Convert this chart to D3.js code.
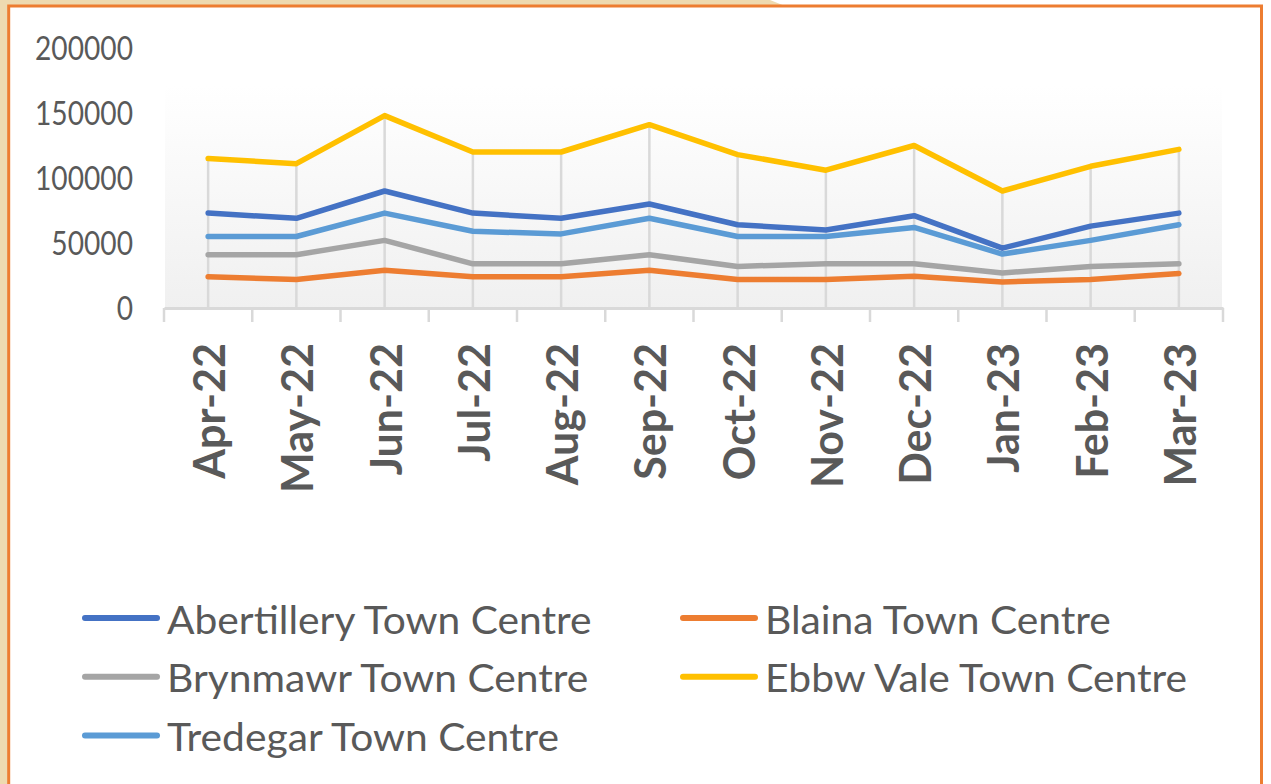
<!DOCTYPE html>
<html><head><meta charset="utf-8">
<script src="https://cdn.jsdelivr.net/npm/d3@7"></script>
<style>
html,body{margin:0;padding:0;background:#fff;}
svg{display:block;}
text{font-family:Lato, "Open Sans", sans-serif;fill:#595959;}
</style></head>
<body>
<svg id="chart" width="1271" height="784"></svg>
<script>
const months = ["Apr-22","May-22","Jun-22","Jul-22","Aug-22","Sep-22","Oct-22","Nov-22","Dec-22","Jan-23","Feb-23","Mar-23"];
const seriesNames = ["Abertillery Town Centre","Blaina Town Centre","Brynmawr Town Centre","Ebbw Vale Town Centre","Tredegar Town Centre"];
const abertillery = [73000, 69000, 90000, 73000, 69000, 80000, 64000, 60000, 71000, 46000, 63000, 73000];
const blaina      = [24000, 22000, 29000, 24000, 24000, 29000, 22000, 22000, 24500, 20000, 22000, 26500];
const brynmawr    = [41000, 41000, 52000, 34000, 34000, 41000, 32000, 34000, 34000, 27000, 32000, 34000];
const ebbwVale    = [115000, 111000, 148000, 120000, 120000, 141000, 118000, 106000, 125000, 90000, 109000, 122000];
const tredegar    = [55000, 55000, 73000, 59000, 57000, 69000, 55000, 55000, 62000, 41500, 52000, 64000];
const yTicks = [0, 50000, 100000, 150000, 200000];
const colors = ["#4472C4","#ED7D31","#A5A5A5","#FFC000","#5B9BD5"];

const seriesValues = [abertillery, blaina, brynmawr, ebbwVale, tredegar];
const series = seriesNames.map((n,i)=>({name:n, values:seriesValues[i], color:colors[i]}));

const svg = d3.select("#chart");
const W = 1271, H = 784;

// background: beige texture edge + white card with orange border
svg.append("rect").attr("x",0).attr("y",0).attr("width",W).attr("height",H).attr("fill","#fff");
svg.append("path").attr("d","M0,0 L770,0 L790,8 L0,8 Z").attr("fill","#EEDAB0");
svg.append("rect").attr("x",0).attr("y",0).attr("width",9).attr("height",H).attr("fill","#EEDAB0");
svg.append("rect").attr("x",8.7).attr("y",6).attr("width",1252.8).attr("height",790)
  .attr("fill","#fff").attr("stroke","#ED7D31").attr("stroke-width",3);

const x = d3.scaleBand().domain(months).range([164,1223]);
const y = d3.scaleLinear().domain([0,200000]).range([308,48]);

// back wall gradient
const defs = svg.append("defs");
const grad = defs.append("linearGradient").attr("id","wall").attr("x1",0).attr("y1",0).attr("x2",0).attr("y2",1);
grad.append("stop").attr("offset","0%").attr("stop-color","#ffffff");
grad.append("stop").attr("offset","100%").attr("stop-color","#F0F0F0");
svg.append("rect").attr("x",x.range()[0]+1).attr("y",85).attr("width",x.range()[1]-x.range()[0]-2)
  .attr("height",y(0)-85).attr("fill","url(#wall)");

// drop lines
const cx = m => x(m)+x.bandwidth()/2;
svg.append("g").selectAll("line").data(months).join("line")
  .attr("x1",cx).attr("x2",cx)
  .attr("y1",(m,i)=>y(d3.max(seriesValues,s=>s[i])))
  .attr("y2",y(0))
  .attr("stroke","#D9D9D9").attr("stroke-width",2.5);

// x axis
const xAxis = svg.append("g").attr("transform",`translate(0,${y(0)})`)
  .call(d3.axisBottom(x).tickSize(0).tickFormat(""));
xAxis.select(".domain").attr("stroke","#D9D9D9").attr("stroke-width",3);
const bounds = months.map(m=>x(m)).concat([x.range()[1]]);
svg.append("g").selectAll("line").data(bounds).join("line")
  .attr("x1",d=>d).attr("x2",d=>d).attr("y1",y(0)).attr("y2",y(0)+14)
  .attr("stroke","#D9D9D9").attr("stroke-width",2.5);
svg.append("g").selectAll("text").data(months).join("text")
  .attr("transform",m=>`translate(${cx(m)+17},343) rotate(-90)`)
  .attr("text-anchor","end")
  .style("font-weight","bold").style("font-size","43px")
  .text(m=>m);

// y axis labels
const yAxis = svg.append("g").attr("transform","translate(133,0)")
  .call(d3.axisLeft(y).tickValues(yTicks).tickSize(0).tickPadding(0).tickFormat(d3.format("d")));
yAxis.select(".domain").remove();
yAxis.selectAll("text").style("font-size","32px").attr("fill","#595959")
  .style("font-family","Lato, sans-serif")
  .attr("dy","0.36em")
  .each(function(){ const l=this.getComputedTextLength(); d3.select(this).attr("textLength",l*0.88).attr("lengthAdjust","spacingAndGlyphs"); });

// lines
const line = d3.line().x((d,i)=>cx(months[i])).y(d=>y(d));
svg.append("g").selectAll("path").data(series).join("path")
  .attr("d",s=>line(s.values)).attr("fill","none")
  .attr("stroke",s=>s.color).attr("stroke-width",5.5)
  .attr("stroke-linecap","round").attr("stroke-linejoin","round");

// legend
const leg = svg.append("g").selectAll("g").data(series).join("g")
  .attr("transform",(s,i)=>`translate(${i%2===0?85:683},${618+Math.floor(i/2)*58.8})`);
leg.append("line").attr("x1",0).attr("x2",72).attr("y1",0).attr("y2",0)
  .attr("stroke",s=>s.color).attr("stroke-width",6).attr("stroke-linecap","round");
leg.append("text").attr("x",82).attr("y",15.5).style("font-size","39px").text(s=>s.name)
  .each(function(){ const l=this.getComputedTextLength(); d3.select(this).attr("textLength",l*1.045).attr("lengthAdjust","spacingAndGlyphs"); });
</script>
</body></html>
